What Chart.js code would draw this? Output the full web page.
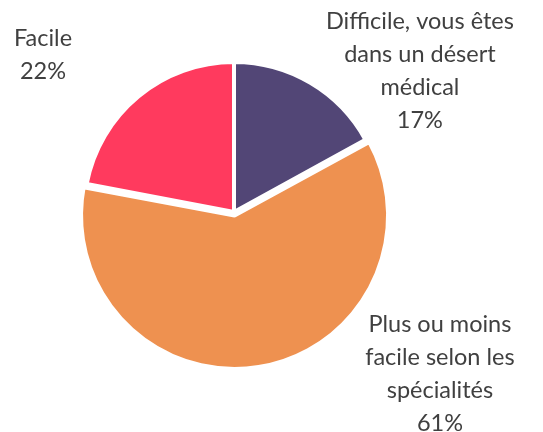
<!DOCTYPE html>
<html>
<head>
<meta charset="utf-8">
<script src="https://cdn.jsdelivr.net/npm/chart.js@4/dist/chart.umd.min.js"></script>
<style>
	html, body { margin: 0; padding: 0; background: #fff; }
	#wrap { width: 543px; height: 432px; }
</style>
</head>
<body>
<div id="wrap"><canvas id="myChart"></canvas></div>
<script>
// données
var categories = [
	['Difficile, vous êtes', 'dans un désert', 'médical'],
	['Plus ou moins', 'facile selon les', 'spécialités'],
	['Facile']
];
var values = [17, 61, 22];
var colors = ['#524676', '#EE9150', '#FF3A5E'];

// placement des étiquettes : angle (degrés, sens horaire depuis midi) et distance (x rayon)
var labelAngles = [52.8, 128.2, 309.4];
var labelDist = [1.556, 1.747, 1.648];

var outsideLabels = {
	id: 'outsideLabels',
	afterDatasetsDraw: function (chart) {
		var ctx = chart.ctx;
		var meta = chart.getDatasetMeta(0);
		ctx.save();
		ctx.font = '23.5px Lato';
		ctx.fillStyle = '#404040';
		ctx.textAlign = 'center';
		ctx.textBaseline = 'middle';
		var lineH = 33;
		meta.data.forEach(function (arc, i) {
			var p = arc.getProps(['x', 'y', 'outerRadius'], true);
			var a = labelAngles[i] * Math.PI / 180;
			var r = p.outerRadius * labelDist[i];
			var cx = p.x + Math.sin(a) * r;
			var cy = p.y - Math.cos(a) * r;
			var lines = categories[i].concat([values[i] + '%']);
			var top = cy - (lines.length - 1) * lineH / 2;
			lines.forEach(function (t, k) {
				ctx.fillText(t, cx, top + k * lineH);
			});
		});
		ctx.restore();
	}
};

document.addEventListener("DOMContentLoaded", function (event) {
	var ctx = document.getElementById('myChart');
	var myChart = new Chart(ctx, {
		type: 'pie',
		data: {
			labels: categories,
			datasets: [{
				data: values,
				backgroundColor: colors,
				borderColor: '#ffffff',
				borderWidth: 4,
				offset: [0, 14, 0],
				hoverOffset: 0
			}]
		},
		options: {
			responsive: true,
			maintainAspectRatio: false,
			animation: false,
			events: [],
			radius: 150,
			layout: {
				padding: { left: 0, right: 75, top: 0, bottom: 8 }
			},
			plugins: {
				legend: { display: false },
				tooltip: { enabled: false }
			}
		},
		plugins: [outsideLabels]
	});
});
</script>
</body>
</html>
